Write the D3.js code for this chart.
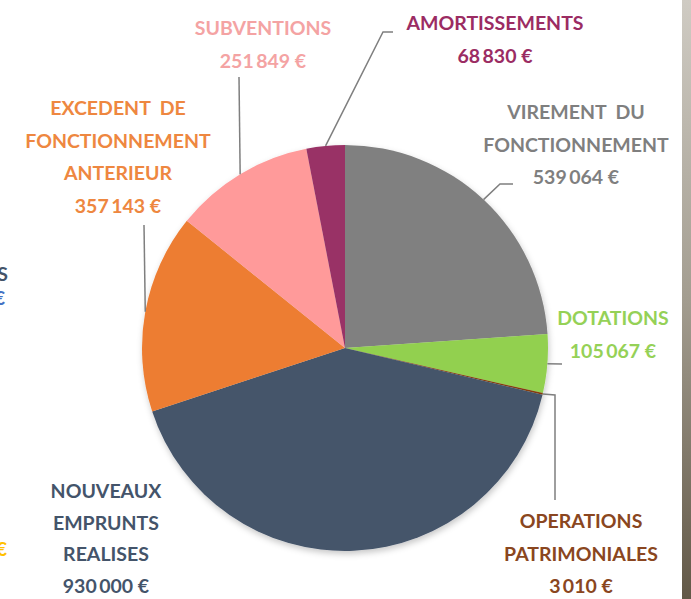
<!DOCTYPE html>
<html>
<head>
<meta charset="utf-8">
<script src="https://cdn.jsdelivr.net/npm/d3@7"></script>
<style>
  html, body { margin: 0; padding: 0; background: #fff; }
  svg { display: block; }
  text { font-family: Lato, "Open Sans", sans-serif; font-weight: 700; }
</style>
</head>
<body>
<div id="chart"></div>
<script>
// slices, clockwise from 12 o'clock
const names = [
  "VIREMENT  DU|FONCTIONNEMENT",
  "DOTATIONS",
  "OPERATIONS|PATRIMONIALES",
  "NOUVEAUX|EMPRUNTS|REALISES",
  "EXCEDENT  DE|FONCTIONNEMENT|ANTERIEUR",
  "SUBVENTIONS",
  "AMORTISSEMENTS"
];
const values = [539064, 105067, 3010, 930000, 357143, 251849, 68830];
const sliceColors = ["#808080", "#92d050", "#843c0c", "#44546a", "#ed7d31", "#ff9a9a", "#993366"];
const textColors = ["#7f7f7f", "#95d157", "#8a4620", "#44546a", "#ee8740", "#f4a3a3", "#9b2c63"];

// label anchors (first baseline) and leader bends, by slice
const labelPos = [
  {x: 576, y: 119},
  {x: 613, y: 325},
  {x: 581, y: 528},
  {x: 106, y: 498},
  {x: 118, y: 115},
  {x: 263, y: 35},
  {x: 495, y: 30}
];
const leaders = [
  [[500, 184], [513, 184]],
  [[562, 364]],
  [[555, 395], [555, 500]],
  null,
  [[144, 225]],
  [[239, 77]],
  [[383, 32], [393, 32]]
];

const width = 691, height = 599;
const cx = 345, cy = 348, radius = 203;

const fr = d3.formatLocale({decimal: ",", thousands: "\u2009", grouping: [3], currency: ["", " €"]});
const fmt = fr.format("$,");

const svg = d3.select("#chart").append("svg")
    .attr("width", width)
    .attr("height", height)
    .attr("viewBox", [0, 0, width, height]);

const defs = svg.append("defs");
defs.append("filter")
    .attr("id", "shadow")
    .attr("x", "-20%").attr("y", "-20%").attr("width", "140%").attr("height", "140%")
  .append("feDropShadow")
    .attr("dx", 1).attr("dy", 3)
    .attr("stdDeviation", 3)
    .attr("flood-color", "#000")
    .attr("flood-opacity", 0.22);

const grad = defs.append("linearGradient")
    .attr("id", "edge")
    .attr("x1", 0).attr("y1", 0).attr("x2", 0).attr("y2", 1);
grad.append("stop").attr("offset", 0).attr("stop-color", "#cfcbc3");
grad.append("stop").attr("offset", 0.5).attr("stop-color", "#a39d90");
grad.append("stop").attr("offset", 1).attr("stop-color", "#625847");

const pie = d3.pie().sort(null).value(d => d);
const arcs = pie(values);
const arc = d3.arc().innerRadius(0).outerRadius(radius);

const g = svg.append("g").attr("transform", `translate(${cx},${cy})`);

g.append("g")
    .attr("filter", "url(#shadow)")
  .selectAll("path")
  .data(arcs)
  .join("path")
    .attr("d", arc)
    .attr("fill", (d, i) => sliceColors[i]);

// leader lines start on the rim at the slice's mid angle
const rimPoint = d => {
  const a = (d.startAngle + d.endAngle) / 2;
  return [cx + radius * Math.sin(a), cy - radius * Math.cos(a)];
};

svg.append("g")
    .attr("fill", "none")
    .attr("stroke", "#7f7f7f")
    .attr("stroke-width", 1.5)
  .selectAll("path")
  .data(arcs.filter((d, i) => leaders[i]))
  .join("path")
    .attr("d", d => d3.line()([rimPoint(d), ...leaders[d.index]]));

const labels = svg.append("g")
    .attr("text-anchor", "middle")
    .attr("font-size", 19.5)
  .selectAll("text")
  .data(arcs)
  .join("text")
    .attr("fill", (d, i) => textColors[i]);

labels.selectAll("tspan")
  .data(d => [...names[d.index].split("|"), fmt(d.data)].map(t => ({t, i: d.index})))
  .join("tspan")
    .attr("x", d => labelPos[d.i].x)
    .attr("y", (d, j) => labelPos[d.i].y + j * (d.i === 3 ? 31.7 : 32.5))
    .attr("xml:space", "preserve")
    .style("white-space", "pre")
    .text(d => d.t);

// bits of the neighbouring chart's labels, cut off by the frame
svg.append("text").attr("x", 8).attr("y", 281).attr("text-anchor", "end")
    .attr("font-size", 19.5).attr("fill", "#44546a").text("S");
svg.append("text").attr("x", 5).attr("y", 305).attr("text-anchor", "end")
    .attr("font-size", 19.5).attr("fill", "#4472c4").text("€");
svg.append("text").attr("x", 7).attr("y", 556).attr("text-anchor", "end")
    .attr("font-size", 19.5).attr("fill", "#ffc000").text("€");

svg.append("rect")
    .attr("x", 682).attr("y", 0)
    .attr("width", width - 682).attr("height", height)
    .attr("fill", "url(#edge)");
</script>
</body>
</html>
